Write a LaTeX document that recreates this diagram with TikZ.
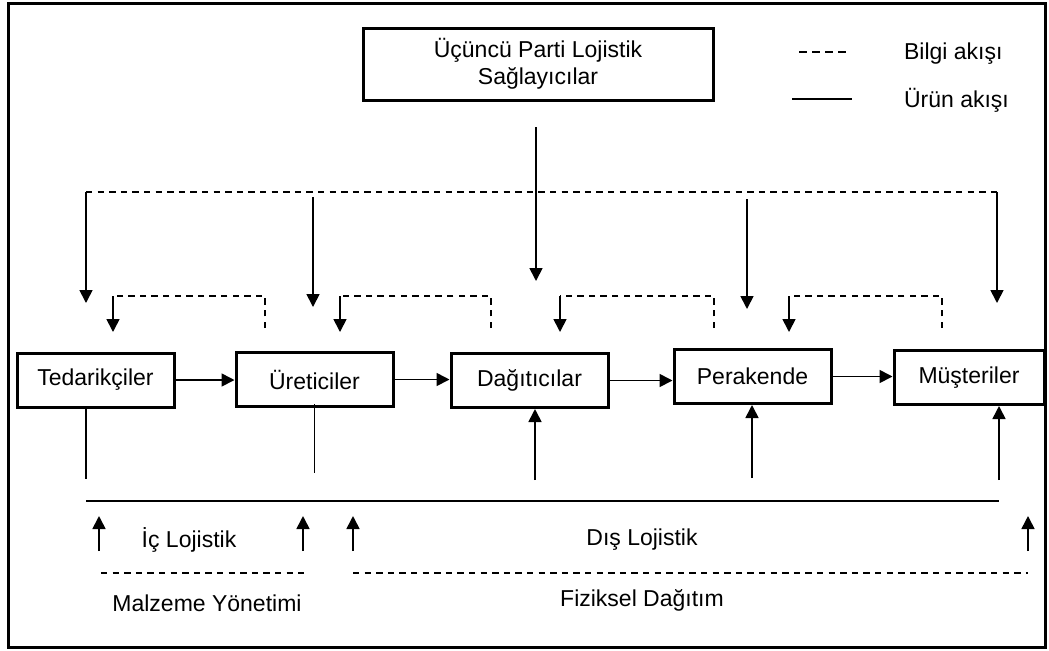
\documentclass[tikz,border=0pt]{standalone}
\usepackage{fontspec}
\setmainfont{Liberation Sans}
\usetikzlibrary{arrows.meta,scopes}
\begin{document}
\begin{tikzpicture}[
    x=0.5pt,y=-0.5pt,
    font=\fontsize{11.5}{13.5}\selectfont,
    >={Triangle[length=6.5pt,width=6.5pt]},
    kutu/.style={rectangle,draw=black,line width=1.5pt,minimum width=78.5pt,minimum height=27pt,inner sep=0pt},
    urun/.style={draw=black,line width=0.85pt},
    bilgi/.style={draw=black,line width=0.85pt,dash pattern=on 3.2pt off 2.6pt},
]
    \useasboundingbox (0,0) rectangle (1049,650);
    \draw[line width=1.5pt] (8,3) rectangle (1045,647);

    \node[kutu,minimum width=175pt,minimum height=36pt,align=center] (tpl) at (538,64) {Üçüncü Parti Lojistik\\Sağlayıcılar};
    \node[kutu] (ted) at (95.5,380) {Tedarikçiler};
    \node[kutu] (ure) at (314.5,379.5) {Üreticiler};
    \node[kutu] (dag) at (529.5,380.5) {Dağıtıcılar};
    \node[kutu] (per) at (752.5,376.5) {Perakende};
    \node[kutu,minimum width=75pt] (mus) at (969,377.5) {Müşteriler};

    \node[anchor=west] (bil) at (897,54) {Bilgi akışı};
    \node[anchor=west] (uru) at (897,100) {Ürün akışı};
    \draw[bilgi,dash pattern=on 4pt off 2.5pt] (799,52) -- (847,52);
    \draw[urun] (792,99) -- (852,99);

    \node (ic) at (189,540) {İç Lojistik};
    \node (dis) at (642,540) {Dış Lojistik};
    \node (mal) at (207,603) {Malzeme Yönetimi};
    \node (fiz) at (642,600) {Fiziksel Dağıtım};

    \draw[bilgi] (86,192) coordinate (bl) -- (997,192) coordinate (br);
    \coordinate (t1) at (536,127);
    \coordinate (i2) at (313,197);
    \coordinate (i4) at (747,199);
    {[urun,->]
        \draw (t1) -- ++(0,154);
        \draw (bl) -- ++(0,111);
        \draw (i2) -- ++(0,110);
        \draw (i4) -- ++(0,110);
        \draw (br) -- ++(0,111);
        \draw (ted) -- (ted -| ure.west);
        \draw (ure) -- (ure -| dag.west);
        \draw (dag) -- (dag -| per.west);
        \draw (per) -- (per -| mus.west);
    }
    \foreach \a/\b in {113/265,340/491,560/714,789/942}{
        \draw[bilgi] (\b,328) -- (\b,296) -- (\a,296);
        \draw[urun,->] (\a,296) -- (\a,332);
    }

    \draw[urun] (86,501) coordinate (al) -- (999,501) coordinate (ar);
    \coordinate (d1) at (535,480);
    \coordinate (p1) at (752,478);
    \coordinate (m1) at (999,480);
    \draw[urun] (ted.south -| al) -- ++(0,70);
    \draw[urun] ([yshift=2pt]ure.south) -- ++(0,69);
    {[urun,->]
        \draw (d1) -- (d1 |- dag.south);
        \draw (p1) -- (p1 |- per.south);
        \draw (m1) -- (m1 |- mus.south);
    }
    \foreach \x in {99,303,353,1028}
        \draw[urun,->] (\x,551) -- (\x,516);

    \draw[bilgi] (101,573) -- (304,573);
    \draw[bilgi] (353,573) -- (1028,573);
\end{tikzpicture}
\end{document}
